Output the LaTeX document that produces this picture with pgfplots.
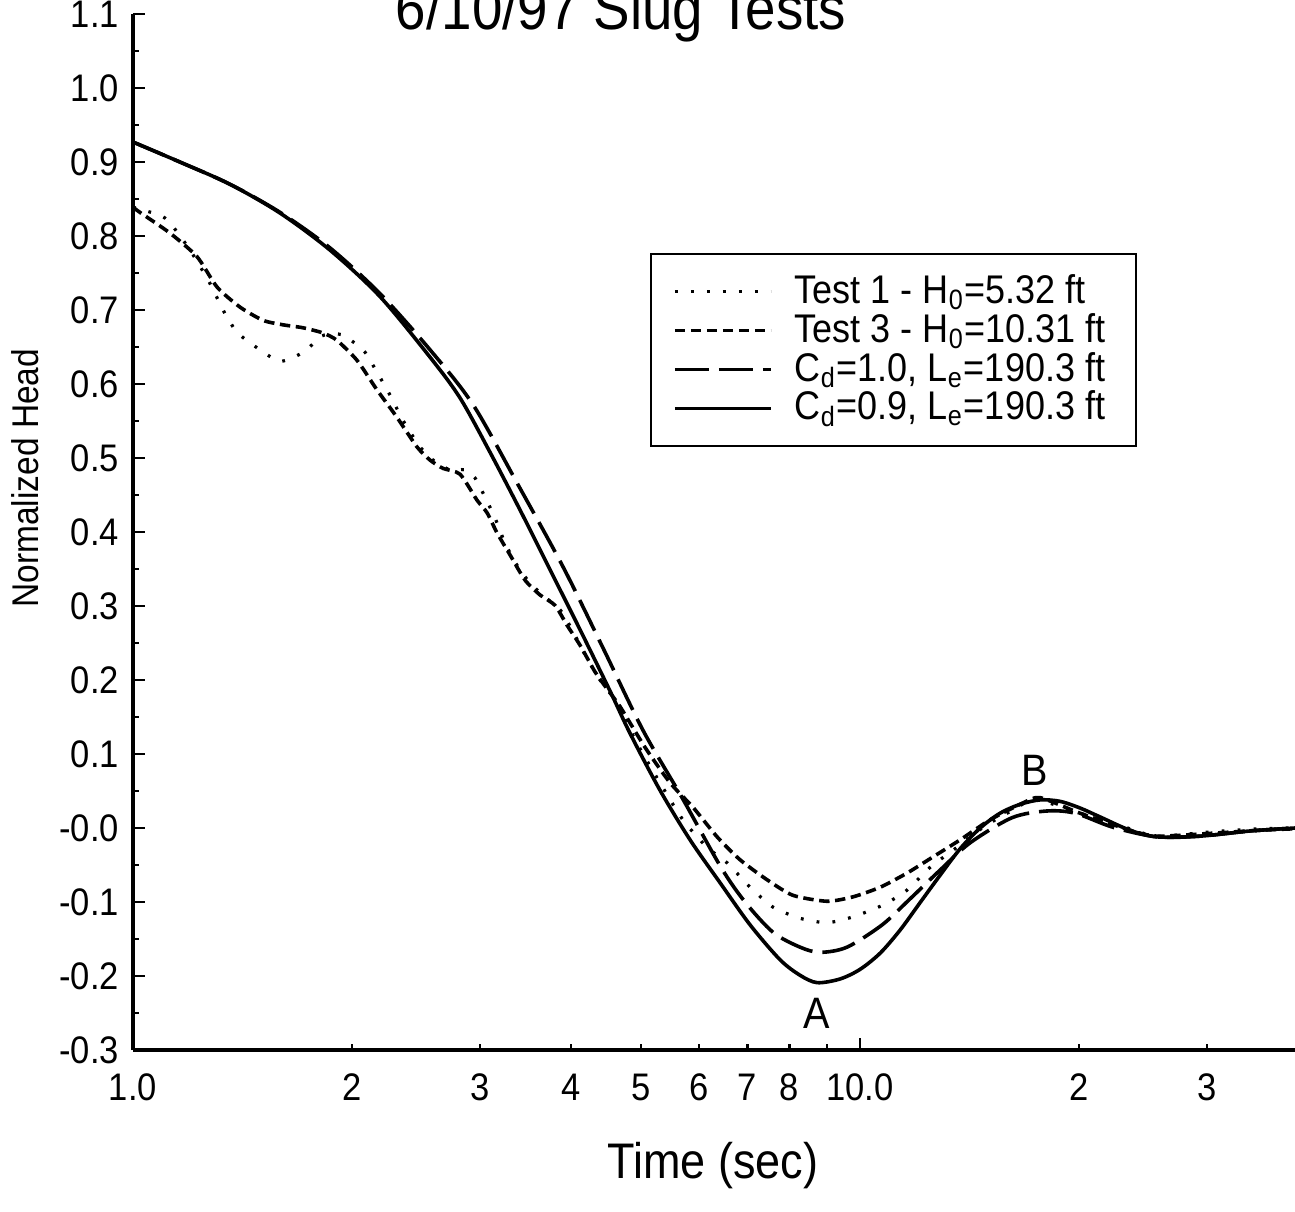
\documentclass[border=0pt]{standalone}
\usepackage{fontspec}
\setmainfont{Liberation Sans}[FakeStretch=0.9]
\usepackage{pgfplots}
\pgfplotsset{compat=1.18}
\begin{document}
\begin{tikzpicture}
\begin{axis}[
  at={(0,0)}, anchor=south west,
  scale only axis, width=291.2pt, height=259pt,
  xmode=log, log basis x=10,
  xmin=1, xmax=40, ymin=-0.3, ymax=1.1,
  axis x line*=bottom, axis y line*=left,
  axis line style={-, line width=0.8pt},
  every tick/.style={black, line width=0.6pt},
  tick align=inside,
  major tick length=3pt, minor tick length=1.4pt,
  xtick={1,10}, xticklabels={1.0,10.0},
  minor xtick={2,3,4,5,6,7,8,9,20,30},
  extra x ticks={2,3,4,5,6,7,8,20,30},
  extra x tick labels={2,3,4,5,6,7,8,2,3},
  extra x tick style={major tick length=0pt},
  ytick={-0.3,-0.2,-0.1,0,0.1,0.2,0.3,0.4,0.5,0.6,0.7,0.8,0.9,1.0,1.1},
  yticklabels={-0.3,-0.2,-0.1,-0.0,0.1,0.2,0.3,0.4,0.5,0.6,0.7,0.8,0.9,1.0,1.1},
  minor ytick={-0.25,-0.15,-0.05,0.05,0.15,0.25,0.35,0.45,0.55,0.65,0.75,0.85,0.95,1.05},
  tick label style={font=\fontsize{9.6}{11}\selectfont},
  xticklabel style={yshift=-2.5pt},
  /pgf/number format/assume math mode=true,
  clip=false,
  legend style={at={(0.4439,0.7693)}, anchor=north west, draw=black, line width=0.6pt,
    font=\fontsize{10}{10}\selectfont, row sep=-3pt, inner xsep=5.5pt, inner ysep=3pt},
  legend cell align=left,
  legend image code/.code={\draw[#1, line width=0.8pt] (0pt,0pt) -- (24pt,0pt); \path[draw=none] (28pt,0pt);},
]
% Test 1 (dotted)
\addplot[black, line width=0.8pt, dash pattern=on 0.7pt off 3.3pt, smooth, tension=0.4] coordinates {
(1.000,0.839)(1.089,0.828)(1.124,0.818)(1.198,0.781)(1.276,0.736)(1.330,0.700)(1.390,0.670)
(1.481,0.649)(1.583,0.631)(1.644,0.634)(1.708,0.642)(1.763,0.653)(1.820,0.665)(1.884,0.668)
(1.945,0.666)(2.020,0.655)(2.085,0.643)(2.166,0.616)(2.257,0.585)(2.351,0.551)(2.482,0.515)
(2.603,0.495)(2.729,0.484)(2.861,0.484)(2.954,0.473)(3.050,0.447)(3.147,0.419)(3.249,0.385)
(3.375,0.355)(3.517,0.331)(3.688,0.312)(3.867,0.295)(4.017,0.268)(4.186,0.234)(4.389,0.200)
(4.603,0.173)(4.950,0.112)(5.307,0.061)(5.706,0.011)(6.159,-0.026)(6.563,-0.047)(7.061,-0.080)
(7.593,-0.107)(8.269,-0.122)(9.007,-0.128)(9.781,-0.120)(10.76,-0.104)(11.60,-0.084)(12.49,-0.053)
(13.60,-0.026)(14.77,0.001)(15.93,0.020)(17.41,0.038)(20.07,0.020)(23.51,-0.001)(25.62,-0.011)
(30.59,-0.005)(35.50,-0.001)(39.66,0.000)
};
\addlegendentry{Test 1 - H\textsubscript{0}=5.32 ft}
% Test 3 (short dash)
\addplot[black, line width=0.9pt, dash pattern=on 2.6pt off 1.4pt, smooth, tension=0.4] coordinates {
(1.000,0.839)(1.022,0.832)(1.124,0.804)(1.225,0.772)(1.305,0.731)(1.403,0.704)(1.510,0.686)
(1.608,0.680)(1.713,0.676)(1.825,0.669)(1.908,0.659)(2.033,0.632)(2.166,0.592)(2.307,0.555)
(2.458,0.515)(2.563,0.497)(2.669,0.486)(2.818,0.478)(2.973,0.443)(3.069,0.426)(3.167,0.399)
(3.301,0.369)(3.461,0.335)(3.629,0.315)(3.805,0.301)(3.954,0.274)(4.120,0.247)(4.320,0.211)
(4.503,0.186)(4.677,0.164)(5.061,0.109)(5.480,0.061)(5.892,0.028)(6.360,-0.012)(6.839,-0.043)
(7.451,-0.070)(8.087,-0.091)(9.007,-0.099)(9.781,-0.093)(10.66,-0.080)(11.60,-0.061)(12.60,-0.039)
(13.73,-0.016)(15.09,0.011)(16.76,0.034)(17.69,0.041)(20.07,0.020)(23.51,-0.003)(25.62,-0.011)
(30.59,-0.007)(35.50,-0.003)(39.66,-0.001)
};
\addlegendentry{Test 3 - H\textsubscript{0}=10.31 ft}
% Cd=1.0 (long dash)
\addplot[black, line width=0.9pt, dash pattern=on 8.5pt off 2.5pt, smooth] coordinates {
(1.000,0.927)(1.160,0.900)(1.359,0.870)(1.593,0.832)(1.866,0.784)(2.187,0.722)(2.563,0.646)
(2.936,0.572)(3.385,0.464)(3.904,0.353)(4.432,0.243)(5.029,0.132)(5.691,0.041)(6.437,-0.053)
(6.948,-0.100)(7.593,-0.141)(8.269,-0.161)(8.81,-0.168)(9.596,-0.161)(10.72,-0.131)(11.68,-0.097)
(12.88,-0.057)(14.17,-0.020)(16.19,0.014)(18.08,0.023)(19.76,0.020)(22.28,0.001)(25.62,-0.012)
(29.36,-0.011)(34.40,-0.004)(39.66,0.000)
};
\addlegendentry{C\textsubscript{d}=1.0, L\textsubscript{e}=190.3 ft}
% Cd=0.9 (solid)
\addplot[black, line width=0.9pt, smooth] coordinates {
(1.000,0.927)(1.160,0.900)(1.359,0.870)(1.593,0.831)(1.866,0.781)(2.187,0.718)(2.563,0.636)
(2.818,0.581)(3.097,0.508)(3.406,0.430)(3.747,0.349)(4.120,0.268)(4.531,0.185)(4.826,0.128)
(5.307,0.051)(5.837,-0.016)(6.419,-0.074)(7.061,-0.131)(7.762,-0.178)(8.269,-0.199)(8.73,-0.209)
(9.386,-0.204)(10.00,-0.191)(10.66,-0.169)(11.35,-0.138)(12.09,-0.101)(12.88,-0.064)(13.73,-0.028)
(14.63,0.000)(15.58,0.020)(16.60,0.032)(17.69,0.038)(18.84,0.036)(20.07,0.027)(21.38,0.015)
(23.51,-0.003)(25.62,-0.012)(29.36,-0.011)(34.40,-0.004)(39.66,0.000)
};
\addlegendentry{C\textsubscript{d}=0.9, L\textsubscript{e}=190.3 ft}
\node[anchor=center, font=\fontsize{11}{11}\selectfont] at (axis cs:8.73,-0.25) {A};
\node[anchor=center, font=\fontsize{11}{11}\selectfont] at (axis cs:17.41,0.078) {B};
\node[anchor=base, font=\fontsize{15.2}{16}\selectfont] at (rel axis cs:0.419,0.98456) {6/10/97 Slug Tests};
\node[anchor=center, font=\fontsize{12.5}{13}\selectfont] at ([yshift=-29pt]rel axis cs:0.498,0) {Time (sec)};
\node[anchor=center, rotate=90, font=\fontsize{9.3}{10}\selectfont] at ([xshift=-27pt]rel axis cs:0,0.552) {Normalized Head};
\end{axis}
\pgfresetboundingbox
\useasboundingbox (-33.25pt,-40.25pt) rectangle (290.5pt,262.5pt);
\end{tikzpicture}
\end{document}
